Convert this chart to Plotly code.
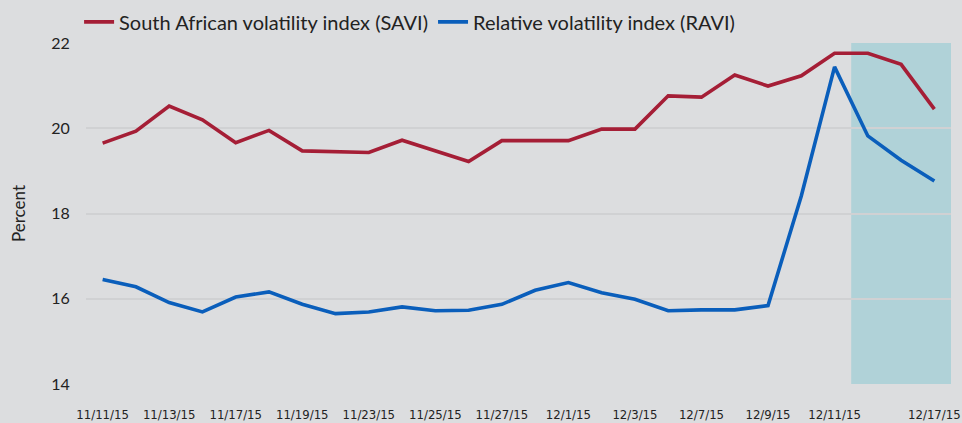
import plotly.graph_objects as go

dates = ["11/11/15", "11/12/15", "11/13/15", "11/16/15", "11/17/15", "11/18/15", "11/19/15",
         "11/20/15", "11/23/15", "11/24/15", "11/25/15", "11/26/15", "11/27/15", "11/30/15",
         "12/1/15", "12/2/15", "12/3/15", "12/4/15", "12/7/15", "12/8/15", "12/9/15",
         "12/10/15", "12/11/15", "12/14/15", "12/15/15", "12/17/15"]

savi = [19.65, 19.93, 20.52, 20.2, 19.66, 19.95, 19.47, 19.45, 19.43, 19.72, 19.47, 19.22,
        19.71, 19.71, 19.71, 19.98, 19.98, 20.76, 20.73, 21.25, 20.99, 21.23, 21.76, 21.76,
        21.5, 20.45]

ravi = [16.45, 16.28, 15.91, 15.69, 16.04, 16.16, 15.87, 15.65, 15.69, 15.81, 15.72, 15.73,
        15.87, 16.2, 16.38, 16.14, 15.99, 15.72, 15.74, 15.74, 15.84, 18.41, 21.44, 19.82,
        19.25, 18.76]

tick_labels = ["11/11/15", "11/13/15", "11/17/15", "11/19/15", "11/23/15", "11/25/15",
               "11/27/15", "12/1/15", "12/3/15", "12/7/15", "12/9/15", "12/11/15", "12/17/15"]

shade_start = "12/14/15"
shade_end = "12/17/15"

RED = "#A51E36"
BLUE = "#0A5EBB"
BG = "#DCDDDF"
GRID = "#D0D1D3"
TEXT = "#222222"

x = list(range(len(dates)))
idx = {d: i for i, d in enumerate(dates)}

fig = go.Figure()
fig.add_trace(go.Scatter(x=x, y=savi, mode="lines", name="South African volatility index (SAVI)",
                         line=dict(color=RED, width=3.6)))
fig.add_trace(go.Scatter(x=x, y=ravi, mode="lines", name="Relative volatility index (RAVI)",
                         line=dict(color=BLUE, width=3.6)))

fig.add_shape(type="rect", xref="x", yref="y",
              x0=idx[shade_start] - 0.5, x1=idx[shade_end] + 0.5, y0=14, y1=22,
              fillcolor="#B0D2D8", line=dict(width=0), layer="below")

fig.update_layout(
    width=962, height=423,
    paper_bgcolor=BG, plot_bgcolor=BG,
    margin=dict(l=86, r=11, t=43, b=39, autoexpand=False),
    font=dict(family="Lato, 'Open Sans', sans-serif", color=TEXT, size=14),
    showlegend=True,
    legend=dict(orientation="h", x=-0.008, xanchor="left", y=1.062, yanchor="middle",
                font=dict(size=20, color=TEXT), bgcolor="rgba(0,0,0,0)",
                itemwidth=30, tracegroupgap=0),
)
fig.update_xaxes(
    range=[-0.5, len(dates) - 0.5],
    tickmode="array",
    tickvals=[idx[t] for t in tick_labels],
    ticktext=tick_labels,
    showgrid=False, zeroline=False, showline=False,
    ticks="outside", ticklen=18, tickcolor="rgba(0,0,0,0)",
    ticklabeloverflow="allow",
    tickfont=dict(family="'DejaVu Sans Condensed', 'Liberation Sans Narrow', Lato, sans-serif",
                  size=13, color=TEXT),
)
fig.update_yaxes(
    range=[14, 22],
    tickvals=[14, 16, 18, 20, 22],
    showgrid=True, gridcolor=GRID, gridwidth=1.5,
    zeroline=False, showline=False,
    ticks="outside", ticklen=12, tickcolor="rgba(0,0,0,0)",
    tickfont=dict(size=16, color=TEXT),
    title=dict(text="Percent", font=dict(size=17, color=TEXT), standoff=21),
)

fig.write_html(
    "out.html",
    config={"displayModeBar": False},
    post_script="document.body.style.margin='0';document.body.style.background='" + BG + "';",
)
